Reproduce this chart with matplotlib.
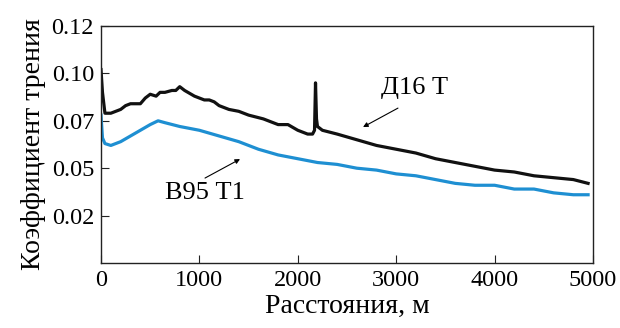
import matplotlib.pyplot as plt

plt.rcParams['font.family'] = ['Liberation Serif', 'DejaVu Serif']

# Д16 Т (black)
d16_x = [0, 15, 40, 100, 150, 200, 250, 300, 400, 450, 500, 560, 600, 650, 720, 760,
         800, 850, 950, 1000, 1050, 1100, 1150, 1200, 1300, 1400, 1500, 1650, 1800,
         1900, 2000, 2100, 2150, 2170, 2180, 2190, 2200, 2250, 2400, 2600, 2800, 2900,
         3000, 3200, 3400, 3600, 3800, 4000, 4200, 4400, 4600, 4800, 4950]
d16_y = [0.102, 0.090, 0.079, 0.079, 0.080, 0.081, 0.083, 0.084, 0.084, 0.087, 0.089,
         0.088, 0.090, 0.090, 0.091, 0.091, 0.093, 0.091, 0.088, 0.087, 0.086, 0.086,
         0.085, 0.083, 0.081, 0.080, 0.078, 0.076, 0.073, 0.073, 0.070, 0.068, 0.068,
         0.070, 0.095, 0.076, 0.072, 0.070, 0.068, 0.065, 0.062, 0.061, 0.060, 0.058,
         0.055, 0.053, 0.051, 0.049, 0.048, 0.046, 0.045, 0.044, 0.042]

# В95 Т1 (blue)
v95_x = [0, 15, 40, 100, 200, 300, 400, 500, 580, 650, 800, 1000, 1200, 1400, 1600,
         1800, 2000, 2200, 2400, 2600, 2800, 3000, 3200, 3400, 3600, 3800, 4000, 4200,
         4400, 4600, 4800, 4950]
v95_y = [0.078, 0.066, 0.063, 0.062, 0.064, 0.067, 0.070, 0.073, 0.075, 0.074, 0.072,
         0.070, 0.067, 0.064, 0.060, 0.057, 0.055, 0.053, 0.052, 0.050, 0.049, 0.047,
         0.046, 0.044, 0.042, 0.041, 0.041, 0.039, 0.039, 0.037, 0.036, 0.036]

y_ticks = [0.025, 0.05, 0.075, 0.10, 0.125]
y_labels = ['0.02', '0.05', '0.07', '0.10', '0.12']
x_ticks = [0, 1000, 2000, 3000, 4000, 5000]

fig = plt.figure(figsize=(6.2, 3.28), dpi=100)
ax = fig.add_axes([101 / 620, 1 - 263 / 328, 492 / 620, 237 / 328])

ax.plot(v95_x, v95_y, color='#1e8fd2', lw=2.3, solid_joinstyle='round')
ax.plot(d16_x, d16_y, color='#111111', lw=2.3, solid_joinstyle='round')

ax.set_xlim(0, 5000)
ax.set_ylim(0, 0.125)
ax.set_xticks(x_ticks)
ax.set_yticks(y_ticks)
ax.set_yticklabels(y_labels)
ax.tick_params(direction='in', length=6, labelsize=17.5, pad=5, color='#222222')
for s in ax.spines.values():
    s.set_linewidth(1.0)
    s.set_color('#222222')

ax.set_xlabel('Расстояния, м', fontsize=20, labelpad=2)
ax.set_ylabel('Коэффициент трения', fontsize=20, labelpad=4)

arrow = dict(arrowstyle='-|>', color='black', lw=0.8, mutation_scale=7,
             shrinkA=0, shrinkB=0)
ax.annotate('', xy=(2663, 0.0717), xytext=(3018, 0.0817), arrowprops=arrow)
ax.annotate('', xy=(1413, 0.0548), xytext=(1057, 0.0448), arrowprops=arrow)
ax.text(3190, 0.0923, 'Д16 Т', fontsize=19, ha='center', va='center')
ax.text(1057, 0.0369, 'В95 Т1', fontsize=19, ha='center', va='center')

fig.savefig('out.png', dpi=100)
